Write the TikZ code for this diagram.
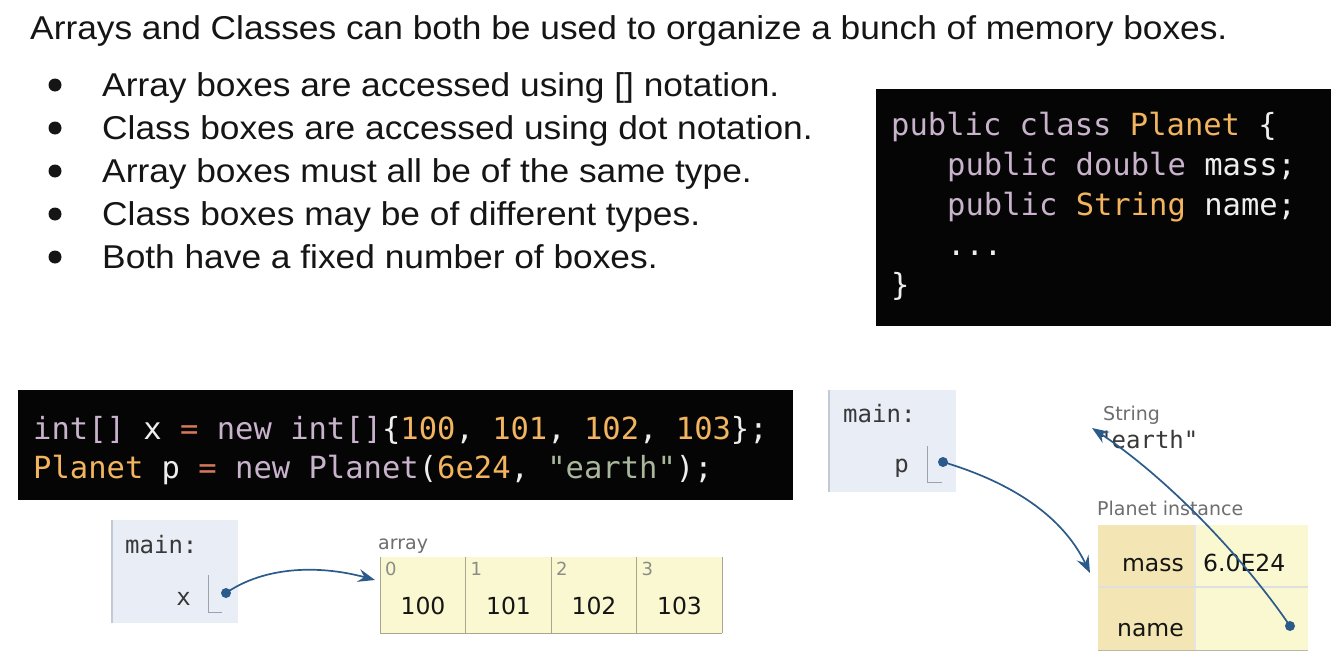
\documentclass[tikz,border=0pt]{standalone}
\usepackage{fontspec}
\setmainfont{Liberation Sans}[FakeStretch=1.07]
\newfontfamily\codefont{DejaVu Sans Mono}
\newfontfamily\vizfont{DejaVu Sans}
\newfontfamily\vizmono{DejaVu Sans Mono}
\usetikzlibrary{arrows.meta}

\definecolor{ink}{HTML}{151515}
\definecolor{codebg}{HTML}{050505}
\definecolor{kw}{HTML}{C9B3CC}
\definecolor{ty}{HTML}{F2B45E}
\definecolor{fg}{HTML}{EEEEEE}
\definecolor{op}{HTML}{D4785A}
\definecolor{str}{HTML}{A9B89C}
\definecolor{framebg}{HTML}{E9EDF6}
\definecolor{frameedge}{HTML}{C4C9D6}
\definecolor{cellbg}{HTML}{FAF8D0}
\definecolor{keybg}{HTML}{F3E6B4}
\definecolor{celledge}{HTML}{A8A690}
\definecolor{ptr}{HTML}{2B5B8A}
\definecolor{lbl}{HTML}{6E6E6E}

\tikzset{
  txt/.style={anchor=base west, inner sep=0pt, text=ink, font=\fontsize{33}{38}\selectfont},
  code/.style={anchor=base west, inner sep=0pt, font=\codefont\fontsize{30.5}{36}\selectfont},
  codebox/.style={fill=codebg, draw=none},
  frame/.style={fill=framebg, draw=none},
  mono/.style={inner sep=0pt, text=ink!85, font=\vizmono\fontsize{24}{28}\selectfont},
  val/.style={inner sep=0pt, text=ink, font=\vizfont\fontsize{23.5}{28}\selectfont},
  small/.style={anchor=base west, inner sep=0pt, text=lbl, font=\vizfont\fontsize{19}{22}\selectfont},
  idx/.style={anchor=north west, inner sep=0pt, text=lbl!80, font=\vizfont\fontsize{18}{20}\selectfont},
  ptrline/.style={draw=ptr, line width=1.7pt, -{Stealth[length=17pt,width=13pt,inset=6pt]}},
  slot/.style={draw=frameedge!80!black, line width=0.8pt},
}

\begin{document}
\begin{tikzpicture}[x=1pt,y=-1pt]
\useasboundingbox (0,0) rectangle (1341,669);
\fill[white] (0,0) rectangle (1341,669);

% heading and bullet list
\node[txt] (title) at (30,40) {Arrays and Classes can both be used to organize a bunch of memory boxes.};
\foreach \i/\t in {1/Array boxes are accessed using [] notation.,
                   2/Class boxes are accessed using dot notation.,
                   3/Array boxes must all be of the same type.,
                   4/Class boxes may be of different types.,
                   5/Both have a fixed number of boxes.} {
  \fill[ink] (55,{96+43*(\i-1)-11}) circle (6.5);
  \node[txt] (b\i) at (102,{96+43*(\i-1)}) {\t};
}

% class declaration
\fill[codebox] (876,89) rectangle (1331,326);
\node[code] (c1) at (891,135) {\textcolor{kw}{public class} \textcolor{ty}{Planet} \textcolor{fg}{\{}};
\node[code] (c2) at (947,175) {\textcolor{kw}{public double} \textcolor{fg}{mass;}};
\node[code] (c3) at (947,215) {\textcolor{kw}{public} \textcolor{ty}{String} \textcolor{fg}{name;}};
\node[code] (c4) at (947,255) {\textcolor{fg}{...}};
\node[code] (c5) at (891,295) {\textcolor{fg}{\}}};

% statements
\fill[codebox] (18,390) rectangle (793,500);
\node[code] (s1) at (33,439) {\textcolor{kw}{int[]} \textcolor{fg}{x} \textcolor{op}{=} \textcolor{kw}{new int[]}\textcolor{fg}{\{}\textcolor{ty}{100}\textcolor{fg}{,} \textcolor{ty}{101}\textcolor{fg}{,} \textcolor{ty}{102}\textcolor{fg}{,} \textcolor{ty}{103}\textcolor{fg}{\};}};
\node[code] (s2) at (33,478) {\textcolor{ty}{Planet} \textcolor{fg}{p} \textcolor{op}{=} \textcolor{kw}{new Planet}\textcolor{fg}{(}\textcolor{ty}{6e24}\textcolor{fg}{,} \textcolor{str}{"earth"}\textcolor{fg}{);}};

% frame holding x
\fill[frame] (112,520) rectangle (238,623);
\draw[frameedge, line width=1.2pt] (112,520) -- (112,623);
\node[mono, anchor=base west] (m1) at (125,553) {main:};
\node[mono, anchor=base east] (vx) at (191,605) {x};
\draw[slot] (208,575) -- (208,612) -- (222,612);
\coordinate (dx) at (226,593);

% array object
\node[small] (alab) at (378,549) {array};
\fill[cellbg] (380,557) rectangle (722,633);
\draw[celledge, line width=1pt] (380,557) -- (380,633) -- (722,633);
\foreach \k/\v in {0/100,1/101,2/102,3/103} {
  \draw[celledge, line width=1pt] ({380+85.5*(\k+1)},557) -- ({380+85.5*(\k+1)},633);
  \node[idx] (i\k) at ({385+85.5*\k},562) {\k};
  \node[val, anchor=base] (a\k) at ({423+85.5*\k},614) {\v};
}
\coordinate (arr) at (375,580);

% frame holding p
\fill[frame] (829,390) rectangle (956,492);
\draw[frameedge, line width=1.2pt] (829,390) -- (829,492);
\node[mono, anchor=base west] (m2) at (843,422) {main:};
\node[mono, anchor=base east] (vp) at (909,472) {p};
\draw[slot] (927,446) -- (927,482) -- (942,482);
\coordinate (dp) at (943,462);

% string object
\node[small] (slab) at (1103,420) {String};
\node[mono, anchor=base west] (sv) at (1097,448) {"earth"};
\coordinate (stip) at (1092,428);

% planet instance
\node[small] (plab) at (1097,515) {Planet instance};
\fill[keybg] (1098,525) rectangle (1195,650);
\fill[cellbg] (1195,525) rectangle (1308,650);
\draw[white!80!gray, line width=1.2pt] (1195,525) -- (1195,650);
\draw[white!75!gray, line width=1.2pt] (1098,587) -- (1308,587);
\draw[celledge!80, line width=1pt] (1098,650) -- (1308,650);
\node[val, anchor=base east] (kmass) at (1184,571) {mass};
\node[val, anchor=base west] (vmass) at (1203,571) {6.0E24};
\node[val, anchor=base east] (kname) at (1184,636) {name};
\coordinate (dn) at (1290,626);
\coordinate (ptip) at (1090,573);

% references
\draw[ptrline] (dx) .. controls (265,566) and (320,565) .. (arr);
\draw[ptrline] (dp) .. controls (1010,482) and (1062,515) .. (ptip);
\draw[ptrline] (dn) .. controls (1245,560) and (1170,480) .. (stip);
\fill[ptr] (dx) circle (5);
\fill[ptr] (dp) circle (5);
\fill[ptr] (dn) circle (5);
\end{tikzpicture}
\end{document}
